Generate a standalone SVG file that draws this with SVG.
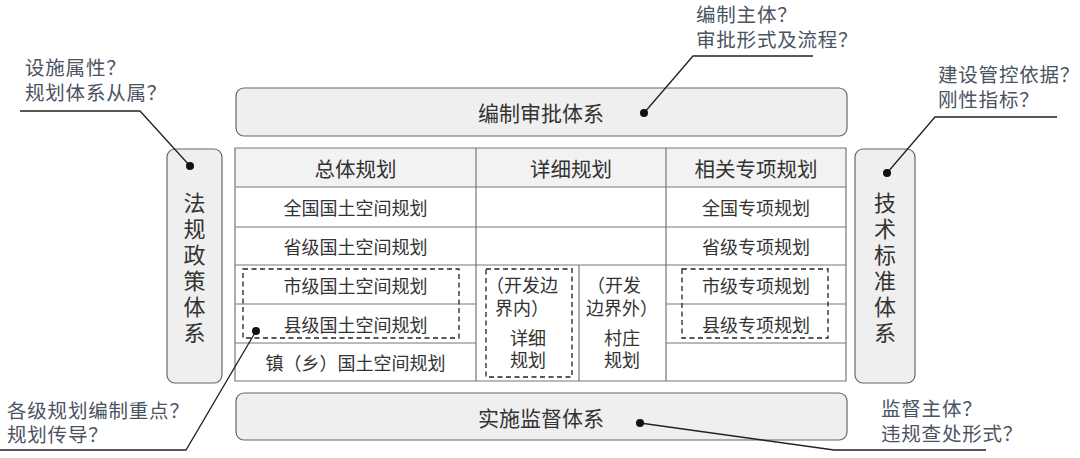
<svg xmlns="http://www.w3.org/2000/svg" width="1080" height="458" viewBox="0 0 1080 458">
<style>
text{font-family:"Noto Sans CJK SC","Noto Sans",sans-serif;dominant-baseline:central;text-anchor:middle;fill:#333}
.box{fill:#efefef;stroke:#666;stroke-width:1.2}
.hdr{fill:#f2f2f2;stroke:none}
.grid{stroke:#777;stroke-width:1.2;fill:none}
.dash{fill:none;stroke:#222;stroke-width:1.3;stroke-dasharray:5,3.5}
.t21{font-size:21px}
.th{font-size:20.5px}
.t18{font-size:18px}
.vt{font-size:22px;writing-mode:vertical-rl;letter-spacing:4px}
.call{font-size:19.5px;letter-spacing:0.8px;fill:#4a5361;text-anchor:start}
.lead{fill:none;stroke:#222;stroke-width:1.3}
.dot{fill:#111}
</style>
<g id="top-box"><rect class="box" x="236" y="88" width="611" height="48" rx="8"/><text class="t21" x="541" y="112">编制审批体系</text></g>
<g id="bottom-box"><rect class="box" x="236" y="393" width="611" height="47" rx="8"/><text class="t21" x="541" y="417">实施监督体系</text></g>
<g id="left-box"><rect class="box" x="167" y="149" width="55" height="234" rx="8"/>
<text class="vt" x="194.5" y="269.5">法规政策体系</text></g>
<g id="right-box"><rect class="box" x="855" y="149" width="60" height="234" rx="8"/>
<text class="vt" x="885" y="269.5">技术标准体系</text></g>
<g id="table">
<rect x="235" y="148" width="611" height="233" fill="#fff"/>
<rect class="hdr" x="235" y="148" width="611" height="39"/>
<path class="grid" d="M235,148H846V381H235Z M235,187H846 M235,227H846 M235,265H846 M235,304H476 M666,304H846 M235,343H476 M666,343H846 M476,148V381 M666,148V381 M579,265V381"/>
<text class="th" x="355.5" y="168">总体规划</text>
<text class="th" x="571" y="168">详细规划</text>
<text class="th" x="756" y="168">相关专项规划</text>
<text class="t18" x="355.5" y="207">全国国土空间规划</text>
<text class="t18" x="355.5" y="246">省级国土空间规划</text>
<text class="t18" x="355.5" y="284.5">市级国土空间规划</text>
<text class="t18" x="355.5" y="323.5">县级国土空间规划</text>
<text class="t18" x="355.5" y="362">镇（乡）国土空间规划</text>
<text class="t18" x="756" y="207">全国专项规划</text>
<text class="t18" x="756" y="246">省级专项规划</text>
<text class="t18" x="756" y="284.5">市级专项规划</text>
<text class="t18" x="756" y="323.5">县级专项规划</text>
<text class="t18" x="486" y="284" style="text-anchor:start">（开发边</text>
<text class="t18" x="495" y="307" style="text-anchor:start">界内）</text>
<text class="t18" x="528" y="337">详细</text>
<text class="t18" x="528" y="359">规划</text>
<text class="t18" x="587" y="284" style="text-anchor:start">（开发</text>
<text class="t18" x="586" y="307" style="text-anchor:start">边界外）</text>
<text class="t18" x="622" y="337">村庄</text>
<text class="t18" x="622" y="359">规划</text>
<rect class="dash" x="243" y="269" width="216" height="69"/>
<rect class="dash" x="486" y="269" width="86" height="108"/>
<rect class="dash" x="682" y="269" width="146" height="69"/>
</g>
<g id="callouts">
<text class="call" x="25" y="66">设施属性？</text>
<text class="call" x="25" y="91.5">规划体系从属？</text>
<text class="call" x="696" y="13.5">编制主体？</text>
<text class="call" x="696" y="38">审批形式及流程？</text>
<text class="call" x="938" y="73.5">建设管控依据？</text>
<text class="call" x="938" y="98.5">刚性指标？</text>
<text class="call" x="7" y="409">各级规划编制重点？</text>
<text class="call" x="7" y="433.5">规划传导？</text>
<text class="call" x="881" y="407.5">监督主体？</text>
<text class="call" x="881" y="432">违规查处形式？</text>
</g>
<g id="connectors">
<polyline class="lead" points="20,111 140,111 190,166"/><circle class="dot" cx="190" cy="166" r="4"/>
<polyline class="lead" points="813,56 693,56 644,113"/><circle class="dot" cx="644" cy="113" r="4"/>
<polyline class="lead" points="1057,117 935,117 887,173"/><circle class="dot" cx="887" cy="173" r="4"/>
<polyline class="lead" points="0,450 186,450 256,331"/><circle class="dot" cx="256" cy="331" r="4"/>
<polyline class="lead" points="986,450 834,450 640,423"/><circle class="dot" cx="640" cy="423" r="4"/>
</g>
</svg>
